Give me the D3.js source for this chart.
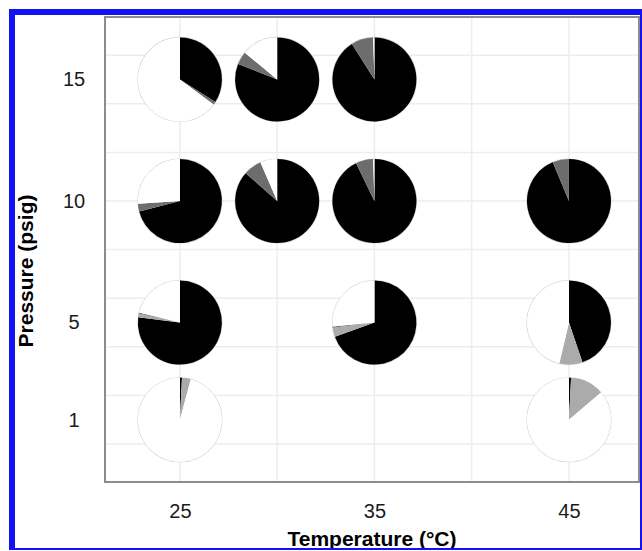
<!DOCTYPE html>
<html>
<head>
<meta charset="utf-8">
<script src="https://cdn.jsdelivr.net/npm/d3@7"></script>
<style>
  body { margin: 0; background: #fff; }
  text { font-family: "Liberation Sans", Arial, sans-serif; }
</style>
</head>
<body>
<div id="chart"></div>
<script>
// Pie positions (temperature, pressure) and composition in percent
var temps     = [25, 30, 35, 25, 30, 35, 45, 25, 35, 45, 25, 45];
var pressures = [15, 15, 15, 10, 10, 10, 10, 5, 5, 5, 1, 1];
var blackPart = [34, 81, 91, 71, 86.5, 92.8, 93.7, 77, 69.5, 44.8, 0.8, 0.8];
var lightPart = [0, 0, 0, 0, 0, 0, 0, 1.5, 3.5, 8.9, 3.4, 13];
var darkPart  = [1.2, 5, 8.5, 3, 7, 6.7, 6.3, 0.3, 0.5, 0, 0, 0];
var whitePart = [64.8, 14, 0.5, 26, 6.5, 0.5, 0, 21.2, 26.5, 46.3, 95.8, 86.2];

var xTicks = [25, 35, 45];
var yTicks = [1, 5, 10, 15];
var xGrid = [25, 30, 35, 40, 45];
var yGrid = [0, 2, 4, 6, 8, 10, 12, 14, 16];

var sliceColors = ["#000000", "#ababab", "#6d6d6d", "#ffffff"];

var width = 642, height = 551;
var svg = d3.select("#chart").append("svg")
    .attr("width", width)
    .attr("height", height);

svg.append("rect").attr("width", width).attr("height", height).attr("fill", "#fff");

// panel edges
var panelLeft = 105, panelRight = 639, panelTop = 17, panelBottom = 482;

var x = d3.scaleLinear().domain([21.15, 48.6]).range([panelLeft, panelRight]);
var y = d3.scaleLinear().domain([-1.56, 17.57]).range([panelBottom, panelTop]);

// grid lines
svg.append("g").selectAll("line")
    .data(xGrid)
    .enter().append("line")
    .attr("x1", d => x(d)).attr("x2", d => x(d))
    .attr("y1", panelTop).attr("y2", panelBottom)
    .attr("stroke", "#ededed")
    .attr("stroke-width", 1.5);

svg.append("g").selectAll("line")
    .data(yGrid)
    .enter().append("line")
    .attr("x1", panelLeft).attr("x2", panelRight)
    .attr("y1", d => y(d)).attr("y2", d => y(d))
    .attr("stroke", "#ededed")
    .attr("stroke-width", 1.5);

// pies
var pieData = temps.map(function(t, i) {
    return {
        temp: t,
        pressure: pressures[i],
        parts: [blackPart[i], lightPart[i], darkPart[i], whitePart[i]]
    };
});

var radius = 42;
var pie = d3.pie().sort(null).value(d => d);
var arc = d3.arc().innerRadius(0).outerRadius(radius);

var pies = svg.append("g").selectAll("g")
    .data(pieData)
    .enter().append("g")
    .attr("transform", d => "translate(" + x(d.temp) + "," + y(d.pressure) + ")");

pies.append("circle")
    .attr("r", radius)
    .attr("fill", "#fff")
    .attr("stroke", "#d2d2d2")
    .attr("stroke-width", 1.2);

pies.selectAll("path")
    .data(d => pie(d.parts).map((p, k) => ({p: p, k: k})))
    .enter().append("path")
    .attr("d", d => arc(d.p))
    .attr("fill", d => sliceColors[d.k])
    .attr("stroke", "none");

// panel border
svg.append("rect")
    .attr("x", panelLeft).attr("y", panelTop)
    .attr("width", panelRight - panelLeft).attr("height", panelBottom - panelTop)
    .attr("fill", "none")
    .attr("stroke", "#8c8c8c")
    .attr("stroke-width", 2);

// axes
var xAxis = svg.append("g")
    .attr("transform", "translate(0," + panelBottom + ")")
    .call(d3.axisBottom(x).tickValues(xTicks).tickSize(0).tickPadding(22));
xAxis.select(".domain").remove();
xAxis.selectAll("text")
    .style("font-size", "20px")
    .attr("fill", "#1a1a1a");

var yAxis = svg.append("g")
    .attr("transform", "translate(74,0)")
    .call(d3.axisLeft(y).tickValues(yTicks).tickSize(0).tickPadding(0));
yAxis.select(".domain").remove();
yAxis.selectAll("text")
    .attr("text-anchor", "middle")
    .attr("x", 0)
    .style("font-size", "20px")
    .attr("fill", "#1a1a1a");

// axis titles
svg.append("text")
    .attr("x", (panelLeft + panelRight) / 2)
    .attr("y", 546)
    .attr("text-anchor", "middle")
    .style("font-size", "21px")
    .style("font-weight", "bold")
    .text("Temperature (°C)");

svg.append("text")
    .attr("transform", "translate(33,271) rotate(-90)")
    .attr("text-anchor", "middle")
    .style("font-size", "21px")
    .style("font-weight", "bold")
    .text("Pressure (psig)");

// blue frame
var blue = "#1212f2";
svg.append("rect").attr("x", 9).attr("y", 9).attr("width", 6).attr("height", 541).attr("fill", blue);
svg.append("rect").attr("x", 9).attr("y", 9).attr("width", 633).attr("height", 6).attr("fill", blue);
svg.append("rect").attr("x", 640).attr("y", 9).attr("width", 2).attr("height", 541).attr("fill", blue);
svg.append("rect").attr("x", 9).attr("y", 548).attr("width", 633).attr("height", 2).attr("fill", blue);
</script>
</body>
</html>
